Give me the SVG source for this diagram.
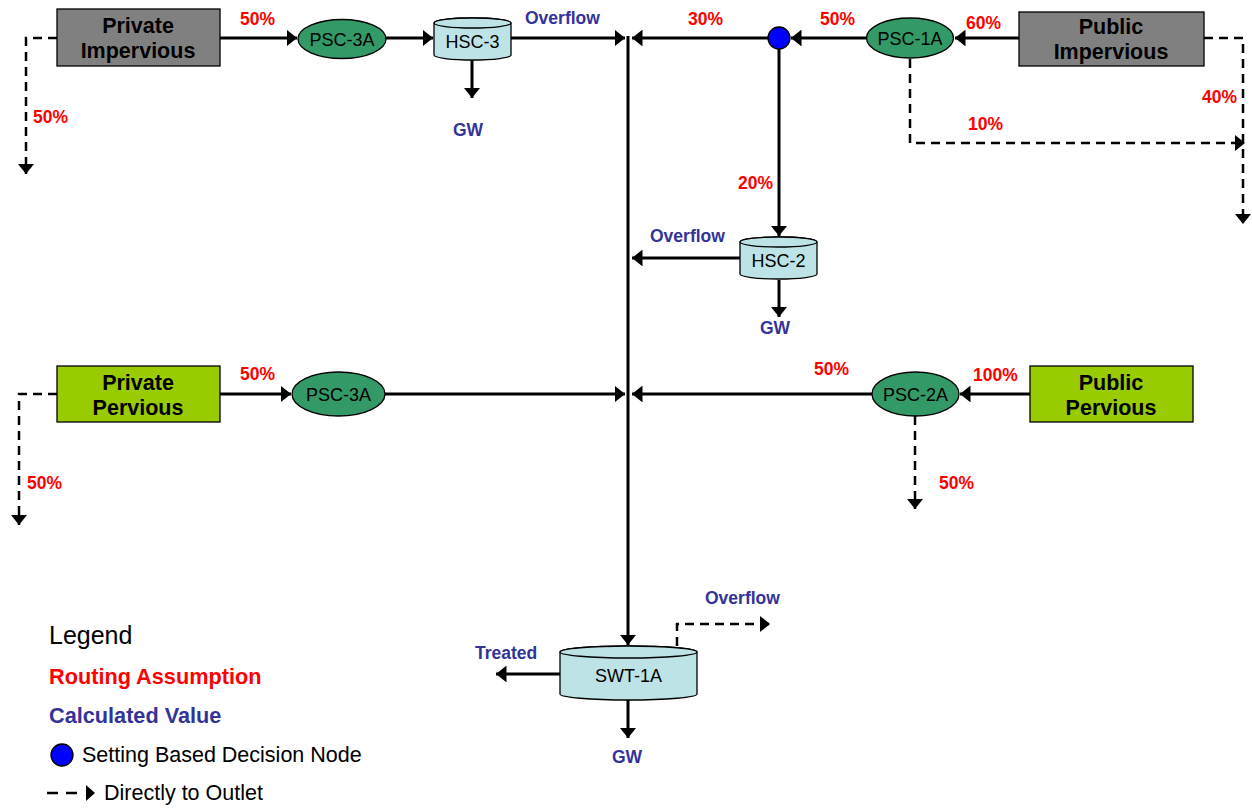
<svg xmlns="http://www.w3.org/2000/svg" width="1252" height="808" viewBox="0 0 1252 808">
<defs>
<marker id="ah" viewBox="0 0 10 16" refX="10" refY="8" markerWidth="3.5" markerHeight="5.6" markerUnits="strokeWidth" orient="auto"><path d="M0,0 L10,8 L0,16 z" fill="#000"/></marker>
<marker id="ahd" viewBox="0 0 10 16" refX="10" refY="8" markerWidth="4.2" markerHeight="6.6" markerUnits="strokeWidth" orient="auto"><path d="M0,0 L10,8 L0,16 z" fill="#000"/></marker>
</defs>
<style>
.s{fill:none;stroke:#000;stroke-width:3}
.sa{fill:none;stroke:#000;stroke-width:3;marker-end:url(#ah)}
.d{fill:none;stroke:#000;stroke-width:2.5;stroke-dasharray:9,6;marker-end:url(#ahd)}
.box{stroke:#000;stroke-width:1.3}
.imp{fill:#808080}
.per{fill:#99cc00}
.bt{font-family:"Liberation Sans",Arial,sans-serif;font-weight:bold;font-size:21.5px;fill:#000;text-anchor:middle}
.ell{fill:#339966;stroke:#000;stroke-width:1.3}
.cyl{fill:#bde3e6;stroke:#000;stroke-width:1.3}
.nt{font-family:"Liberation Sans",Arial,sans-serif;font-size:18px;fill:#000;text-anchor:middle}
.r{font-family:"Liberation Sans",Arial,sans-serif;font-weight:bold;font-size:17.5px;fill:#ff0000}
.b{font-family:"Liberation Sans",Arial,sans-serif;font-weight:bold;font-size:17.5px;fill:#333399}
.lg{font-family:"Liberation Sans",Arial,sans-serif;font-size:21.5px;fill:#000}
.lgb{font-family:"Liberation Sans",Arial,sans-serif;font-weight:bold;font-size:21.7px}
</style>

<g id="connectors">
<path class="d" d="M57,38 H26 V174"/>
<path class="sa" d="M220,38 H297"/>
<path class="sa" d="M386,38 H433"/>
<path class="sa" d="M472,60 V98"/>
<path class="sa" d="M511,38 H625"/>
<path class="sa" d="M628,36 V645"/>
<path class="sa" d="M768,38 H632"/>
<path class="sa" d="M866,38 H791"/>
<path class="sa" d="M1019,38 H955"/>
<path class="d" d="M1204,38 H1243 V224"/>
<path class="d" d="M910,59 V143 H1245"/>
<path class="sa" d="M779,49 V236"/>
<path class="sa" d="M740,258 H632"/>
<path class="sa" d="M779,280 V317"/>
<path class="d" d="M57,394 H19 V525"/>
<path class="sa" d="M220,394 H291"/>
<path class="sa" d="M385,394 H625"/>
<path class="sa" d="M872,394 H632"/>
<path class="sa" d="M1030,394 H960"/>
<path class="d" d="M915,416 V509"/>
<path class="sa" d="M560,674 H496"/>
<path class="sa" d="M628,700 V738"/>
<path class="d" d="M677,646 V624 H770"/>
</g>

<g id="private-impervious">
<rect class="box imp" x="57" y="9" width="163" height="57"/>
<text class="bt" x="138" y="33">Private</text>
<text class="bt" x="138" y="58">Impervious</text>
</g>
<g id="public-impervious">
<rect class="box imp" x="1019" y="12" width="185" height="54"/>
<text class="bt" x="1111" y="34">Public</text>
<text class="bt" x="1111" y="59">Impervious</text>
</g>
<g id="private-pervious">
<rect class="box per" x="57" y="366" width="163" height="56"/>
<text class="bt" x="138" y="390">Private</text>
<text class="bt" x="138" y="415">Pervious</text>
</g>
<g id="public-pervious">
<rect class="box per" x="1030" y="366" width="163" height="56"/>
<text class="bt" x="1111" y="390">Public</text>
<text class="bt" x="1111" y="415">Pervious</text>
</g>

<g id="psc-3a-top">
<ellipse class="ell" cx="342" cy="39" rx="44" ry="19.5"/>
<text class="nt" x="342" y="46">PSC-3A</text>
</g>
<g id="psc-1a">
<ellipse class="ell" cx="910" cy="38" rx="43.5" ry="20"/>
<text class="nt" x="910" y="45">PSC-1A</text>
</g>
<g id="psc-3a-mid">
<ellipse class="ell" cx="338.5" cy="394" rx="46.5" ry="22"/>
<text class="nt" x="338.5" y="401">PSC-3A</text>
</g>
<g id="psc-2a">
<ellipse class="ell" cx="915.5" cy="394" rx="43.5" ry="22"/>
<text class="nt" x="915.5" y="401">PSC-2A</text>
</g>

<g id="decision-node">
<circle cx="779" cy="38" r="11" fill="#0000ff" stroke="#000" stroke-width="1.3"/>
</g>

<g id="hsc-3">
<path class="cyl" d="M434,23 V55 A38.5,5 0 0 0 511,55 V23 A38.5,5 0 0 0 434,23 Z"/>
<ellipse class="cyl" cx="472.5" cy="23" rx="38.5" ry="5"/>
<text class="nt" x="472.5" y="48">HSC-3</text>
</g>
<g id="hsc-2">
<path class="cyl" d="M740,242 V274 A38.5,5 0 0 0 817,274 V242 A38.5,5 0 0 0 740,242 Z"/>
<ellipse class="cyl" cx="778.5" cy="242" rx="38.5" ry="5"/>
<text class="nt" x="778.5" y="267">HSC-2</text>
</g>
<g id="swt-1a">
<path class="cyl" d="M560,652 V694 A68.5,6 0 0 0 697,694 V652 A68.5,6 0 0 0 560,652 Z"/>
<ellipse class="cyl" cx="628.5" cy="652" rx="68.5" ry="6"/>
<text class="nt" x="628.5" y="682">SWT-1A</text>
</g>

<g id="labels">
<text class="r" x="240" y="25">50%</text>
<text class="r" x="33" y="123">50%</text>
<text class="b" x="525" y="24">Overflow</text>
<text class="b" x="453" y="136">GW</text>
<text class="r" x="688" y="25">30%</text>
<text class="r" x="820" y="25">50%</text>
<text class="r" x="966" y="29">60%</text>
<text class="r" x="1202" y="103">40%</text>
<text class="r" x="968" y="130">10%</text>
<text class="r" x="738" y="189">20%</text>
<text class="b" x="650" y="242">Overflow</text>
<text class="b" x="760" y="334">GW</text>
<text class="r" x="240" y="380">50%</text>
<text class="r" x="27" y="489">50%</text>
<text class="r" x="814" y="375">50%</text>
<text class="r" x="973" y="381">100%</text>
<text class="r" x="939" y="489">50%</text>
<text class="b" x="705" y="604">Overflow</text>
<text class="b" x="475" y="659">Treated</text>
<text class="b" x="612" y="763">GW</text>
</g>

<g id="legend">
<text x="49" y="644" style="font-family:'Liberation Sans',Arial,sans-serif;font-size:25px;fill:#000">Legend</text>
<text class="lgb" x="49" y="684" fill="#ff0000">Routing Assumption</text>
<text class="lgb" x="49" y="723" fill="#333399">Calculated Value</text>
<circle cx="62" cy="755" r="11" fill="#0000ff" stroke="#000" stroke-width="1.3"/>
<text class="lg" x="82" y="762">Setting Based Decision Node</text>
<path d="M47,793 H77" stroke="#000" stroke-width="2.5" stroke-dasharray="11,8" fill="none"/>
<path d="M86,785 L95,793 L86,801 Z" fill="#000"/>
<text class="lg" x="104" y="800">Directly to Outlet</text>
</g>
</svg>
